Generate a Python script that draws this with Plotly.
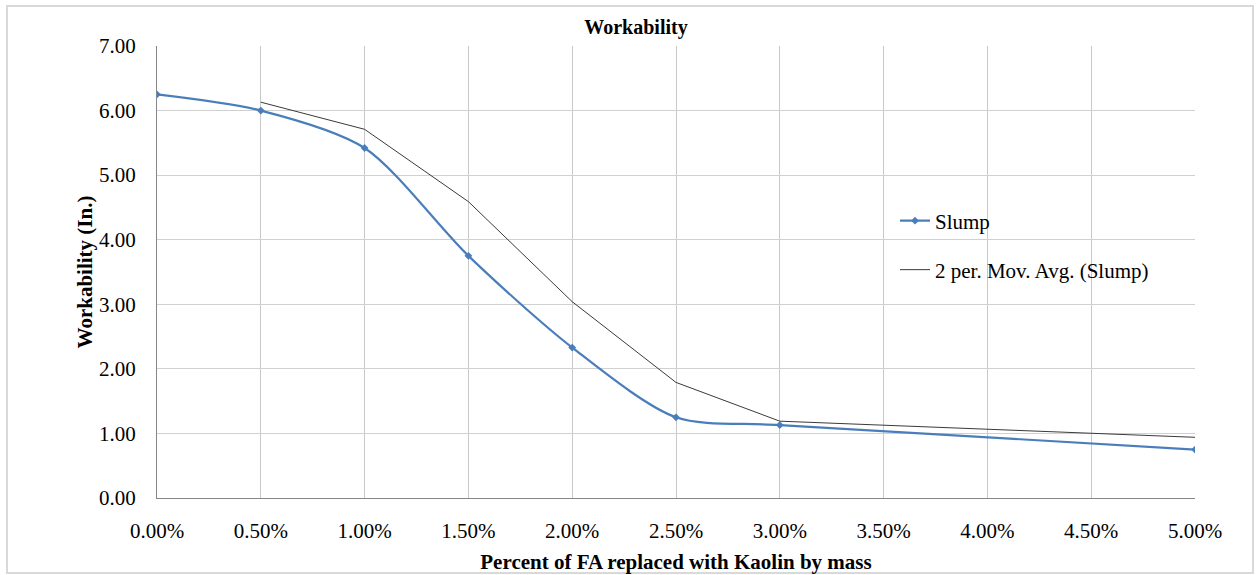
import plotly.graph_objects as go

# Data
x_pct = [0.000, 0.005, 0.010, 0.015, 0.020, 0.025, 0.030, 0.050]
slump = [6.25, 6.00, 5.42, 3.75, 2.33, 1.25, 1.13, 0.75]

mavg_x = [0.005, 0.010, 0.015, 0.020, 0.025, 0.030, 0.050]
mavg_y = [6.13, 5.71, 4.59, 3.04, 1.79, 1.19, 0.94]

x_ticks = [0.000, 0.005, 0.010, 0.015, 0.020, 0.025, 0.030, 0.035, 0.040, 0.045, 0.050]
y_ticks = [0, 1, 2, 3, 4, 5, 6, 7]

FONT = "Liberation Serif, Times New Roman, serif"
W, H = 1259, 575
L, R, T, B = 157, 64, 46, 77
pw, ph = W - L - R, H - T - B

def px_x(p):
    return (p - L) / pw

def px_y(p):
    return (H - B - p) / ph

fig = go.Figure()
fig.add_trace(go.Scatter(
    x=x_pct, y=slump, name="Slump", mode="lines+markers",
    line=dict(color="#4A7EBB", width=2.2, shape="spline", smoothing=0.8),
    marker=dict(symbol="diamond", size=6, color="#4A7EBB"),
    legend="legend",
))
fig.add_trace(go.Scatter(
    x=mavg_x, y=mavg_y, name="2 per. Mov. Avg. (Slump)", mode="lines",
    line=dict(color="#3a3a3a", width=1),
    legend="legend2",
))

fig.update_layout(
    width=W, height=H,
    margin=dict(l=L, r=R, t=T, b=B, autoexpand=False),
    paper_bgcolor="white", plot_bgcolor="white",
    font=dict(family=FONT, size=21, color="black"),
    title=dict(text="<b>Workability</b>", x=(636) / W, xanchor="center",
               y=1 - 27 / H, yanchor="middle", font=dict(size=20, family=FONT)),
    legend=dict(x=px_x(895), y=px_y(221), xanchor="left", yanchor="middle",
                bgcolor="rgba(0,0,0,0)", font=dict(size=21, family=FONT),
                itemwidth=30),
    legend2=dict(x=px_x(895), y=px_y(270), xanchor="left", yanchor="middle",
                 bgcolor="rgba(0,0,0,0)", font=dict(size=21, family=FONT),
                 itemwidth=30),
    showlegend=True,
)

fig.update_xaxes(
    range=[0, 0.05], tickvals=x_ticks, tickformat=".2%",
    showgrid=True, gridcolor="#C8C8C8", gridwidth=1,
    showline=True, linecolor="#868686", linewidth=1,
    ticks="", ticklabelstandoff=14, zeroline=False, automargin=False,
    title=dict(text="<b>Percent of FA replaced with Kaolin by mass</b>",
               font=dict(size=21, family=FONT), standoff=12),
)
fig.update_yaxes(
    range=[0, 7], tickvals=y_ticks, tickformat=".2f",
    showgrid=True, gridcolor="#D0D0D0", gridwidth=1,
    showline=True, linecolor="#868686", linewidth=1,
    ticks="", ticklabelstandoff=16, zeroline=False, automargin=False,
    title=dict(text="<b>Workability (In.)</b>",
               font=dict(size=21, family=FONT), standoff=0),
)

fig.add_shape(type="rect", xref="paper", yref="paper",
              x0=px_x(7), x1=px_x(1253), y0=px_y(573), y1=px_y(6),
              line=dict(color="#D9D9D9", width=2), layer="below")

fig.write_html("out.html")
